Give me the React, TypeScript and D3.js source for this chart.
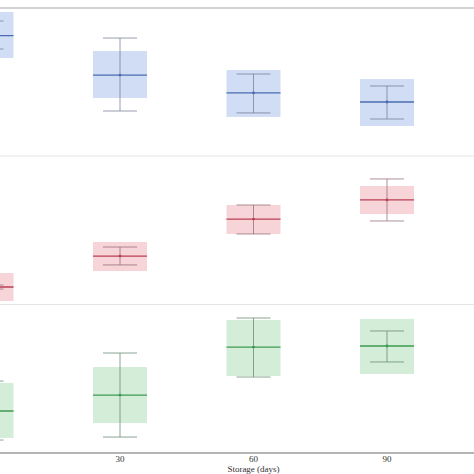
import * as d3 from 'd3';
import React from 'react';

// storage days
const days = [0, 30, 60, 90];
const tickDays = [30, 60, 90];

// per panel: mean, box (low / high), whisker (low / high)
const blueMean = [8.14, 5.47, 4.26, 3.65];
const blueBoxLow = [6.62, 3.92, 2.64, 2.03];
const blueBoxHigh = [9.73, 7.09, 5.81, 5.2];
const blueWhiskLow = [7.23, 3.04, 2.91, 2.5];
const blueWhiskHigh = [9.12, 7.97, 5.54, 4.73];

const redMean = [1.15, 3.24, 5.74, 7.03];
const redBoxLow = [0.2, 2.23, 4.73, 6.08];
const redBoxHigh = [2.09, 4.19, 6.69, 7.97];
const redWhiskLow = [1.01, 2.64, 4.73, 5.61];
const redWhiskHigh = [1.28, 3.85, 6.69, 8.45];

const greenMean = [2.82, 3.89, 7.11, 7.18];
const greenBoxLow = [1.01, 2.01, 5.17, 5.3];
const greenBoxHigh = [4.7, 5.77, 8.93, 9.0];
const greenWhiskLow = [0.87, 1.07, 5.1, 6.11];
const greenWhiskHigh = [4.83, 6.71, 9.06, 8.19];

type Panel = {
  mean: number[];
  boxLow: number[];
  boxHigh: number[];
  whiskLow: number[];
  whiskHigh: number[];
  fill: string;
  stroke: string;
  whisk: string;
  top: number;
  bottom: number;
};

const W = 474;
const H = 474;

const panels: Panel[] = [
  { mean: blueMean, boxLow: blueBoxLow, boxHigh: blueBoxHigh, whiskLow: blueWhiskLow, whiskHigh: blueWhiskHigh,
    fill: '#c6d5f3', stroke: '#4a6cb0', whisk: 'rgba(110,118,140,0.7)', top: 8, bottom: 156 },
  { mean: redMean, boxLow: redBoxLow, boxHigh: redBoxHigh, whiskLow: redWhiskLow, whiskHigh: redWhiskHigh,
    fill: '#f4c9ce', stroke: '#b83f55', whisk: 'rgba(140,100,110,0.7)', top: 156, bottom: 304 },
  { mean: greenMean, boxLow: greenBoxLow, boxHigh: greenBoxHigh, whiskLow: greenWhiskLow, whiskHigh: greenWhiskHigh,
    fill: '#c8e8cf', stroke: '#3c9a4e', whisk: 'rgba(100,135,108,0.75)', top: 304, bottom: 453 },
];

const x = d3.scaleLinear().domain([30, 90]).range([120, 387]);
const boxHalf = 27;
const capHalf = 17;

const App: React.FC = () => {
  return (
    <svg width={W} height={H} style={{ position: 'absolute', left: 0, top: 0, background: '#fff' }}
      fontFamily="'Liberation Serif', 'DejaVu Serif', serif">
      {panels.map((p, pi) => {
        const y = d3.scaleLinear().domain([0, 10]).range([p.bottom, p.top]);
        return (
          <g key={pi}>
            {days.map((d, i) => {
              const cx = x(d);
              return (
                <g key={d}>
                  <rect x={cx - boxHalf} width={boxHalf * 2} y={y(p.boxHigh[i])} height={y(p.boxLow[i]) - y(p.boxHigh[i])}
                    fill={p.fill} fillOpacity={0.8} />
                  <line x1={cx} x2={cx} y1={y(p.whiskHigh[i])} y2={y(p.whiskLow[i])} stroke={p.whisk} strokeWidth={1} />
                  <line x1={cx - capHalf} x2={cx + capHalf} y1={y(p.whiskHigh[i])} y2={y(p.whiskHigh[i])} stroke={p.whisk} strokeWidth={1} />
                  <line x1={cx - capHalf} x2={cx + capHalf} y1={y(p.whiskLow[i])} y2={y(p.whiskLow[i])} stroke={p.whisk} strokeWidth={1} />
                  <line x1={cx - boxHalf} x2={cx + boxHalf} y1={y(p.mean[i])} y2={y(p.mean[i])} stroke={p.stroke} strokeWidth={1.3} />
                  <circle cx={cx} cy={y(p.mean[i])} r={1.4} fill={p.stroke} />
                </g>
              );
            })}
          </g>
        );
      })}
      <line x1={0} x2={W} y1={8} y2={8} stroke="#a8a8a8" strokeWidth={1.2} />
      <line x1={0} x2={W} y1={156} y2={156} stroke="#e4e4e4" strokeWidth={1} />
      <line x1={0} x2={W} y1={304.5} y2={304.5} stroke="#e4e4e4" strokeWidth={1} />
      <line x1={0} x2={W} y1={453} y2={453} stroke="#b4b4b4" strokeWidth={1.8} />
      {tickDays.map(t => (
        <text key={t} x={x(t)} y={462} textAnchor="middle" fontSize={9} fill="#333">{t}</text>
      ))}
      <text x={x(60)} y={472} textAnchor="middle" fontSize={9} fill="#333">Storage (days)</text>
    </svg>
  );
};

export default App;
